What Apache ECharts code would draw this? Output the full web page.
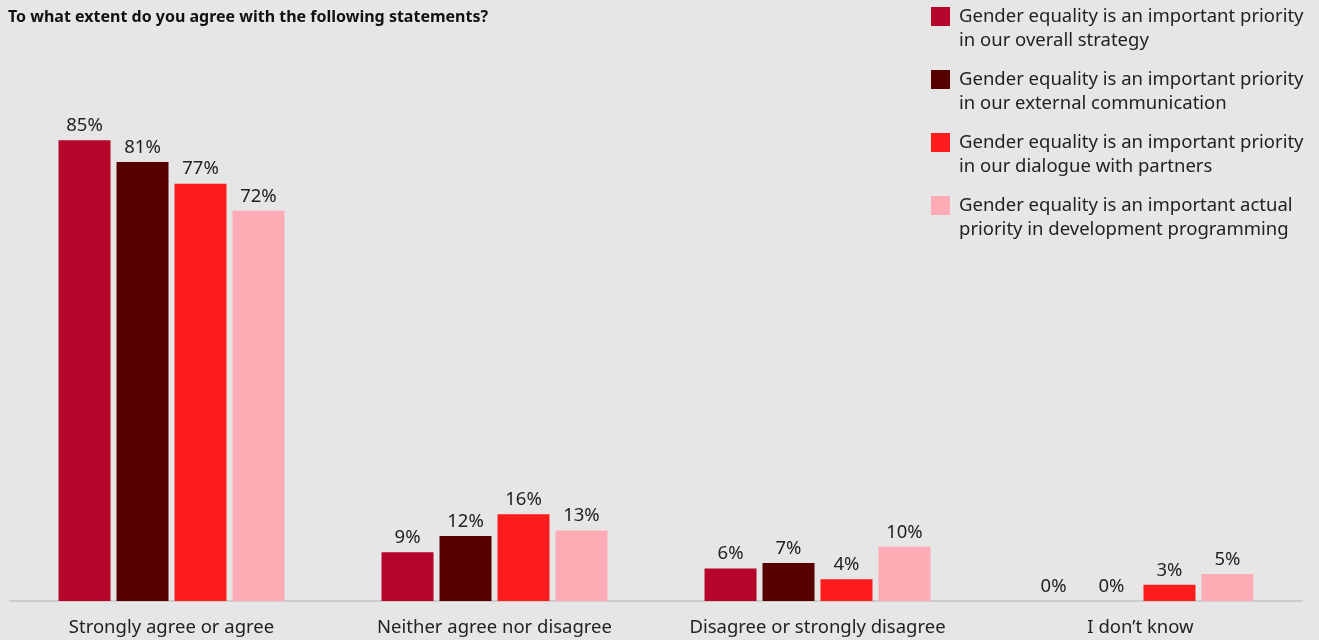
<!DOCTYPE html>
<html><head><meta charset="utf-8">
<style>html,body{margin:0;padding:0;background:#e6e6e6}#c{width:1319px;height:640px}</style>
<script src="https://cdn.jsdelivr.net/npm/echarts@6/dist/echarts.min.js"></script>
</head><body><div id="c"></div>
<script>
const categories = ["Strongly agree or agree", "Neither agree nor disagree", "Disagree or strongly disagree", "I don\u2019t know"];
const seriesNames = [
  "Gender equality is an important priority\nin our overall strategy",
  "Gender equality is an important priority\nin our external communication",
  "Gender equality is an important priority\nin our dialogue with partners",
  "Gender equality is an important actual\npriority in development programming"
];
const overallStrategy = [85, 9, 6, 0];
const externalCommunication = [81, 12, 7, 0];
const dialoguePartners = [77, 16, 4, 3];
const developmentProgramming = [72, 13, 10, 5];
const colors = ["#b5052b", "#570000", "#ff1c1c", "#ffabb6"];
const values = [overallStrategy, externalCommunication, dialoguePartners, developmentProgramming];

const font = "'Noto Sans', 'Open Sans', sans-serif";
const chart = echarts.init(document.getElementById('c'));
chart.setOption({
  backgroundColor: '#e6e6e6',
  animation: false,
  textStyle: { fontFamily: font },
  title: {
    text: "To what extent do you agree with the following statements?",
    left: 3, top: 4,
    textStyle: { fontSize: 16, fontWeight: 'bold', color: '#111', fontFamily: font }
  },
  legend: {
    orient: 'vertical', left: 931, top: -19.5, padding: 0,
    itemWidth: 19, itemHeight: 19, itemGap: -9,
    icon: 'rect',
    formatter: name => ' \n' + name,
    textStyle: { fontSize: 18.5, lineHeight: 24, color: '#222', padding: [0, 0, 0, 4], fontFamily: font },
    data: seriesNames
  },
  grid: { left: 10, right: 17, top: 59, bottom: 39 },
  xAxis: {
    type: 'category', data: categories,
    axisLine: { lineStyle: { color: '#cccccc', width: 2 } },
    axisTick: { show: false },
    axisLabel: { interval: 0, fontSize: 18.5, color: '#222', margin: 17, fontFamily: font }
  },
  yAxis: { type: 'value', min: 0, max: 100, show: false, splitLine: { show: false } },
  series: values.map((v, i) => ({
    name: seriesNames[i], type: 'bar', data: v,
    barWidth: 52, barGap: '11.5%',
    itemStyle: { color: colors[i] },
    label: { show: true, position: 'top', distance: 5, formatter: '{c}%', fontSize: 18.5, color: '#222', fontFamily: font }
  }))
});
</script></body></html>
